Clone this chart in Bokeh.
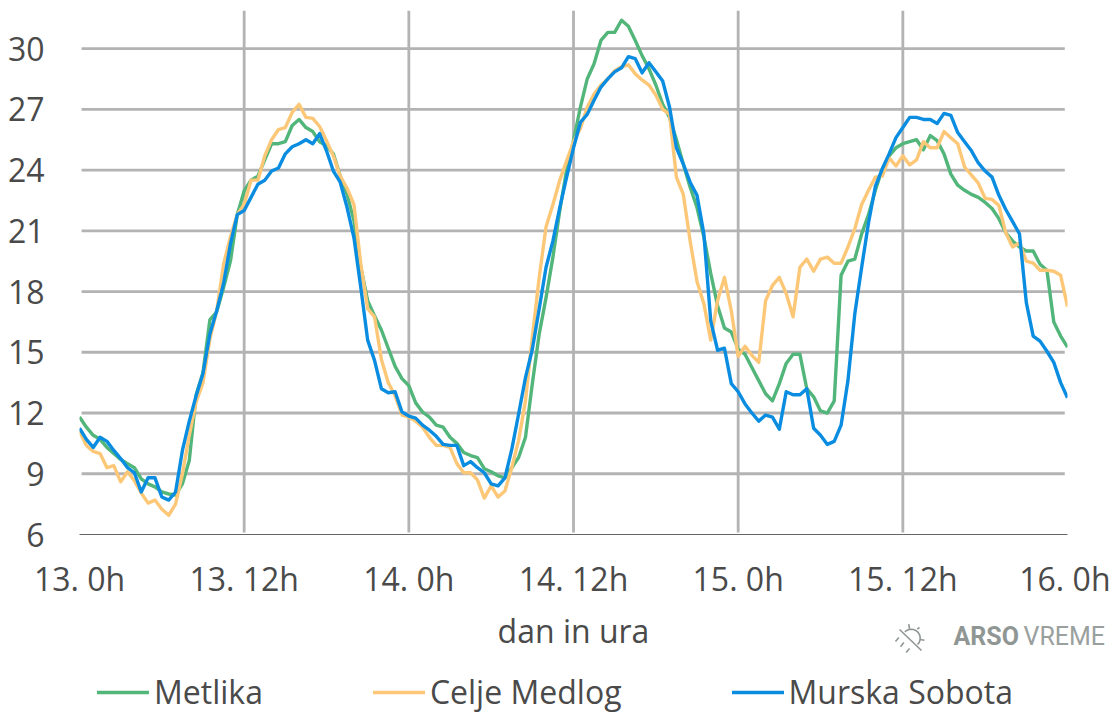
import math
from bokeh.plotting import figure
from bokeh.embed import file_html
from bokeh.layouts import column
from bokeh.resources import INLINE
from bokeh.core.properties import value
from bokeh.models import Range1d, FixedTicker, Legend, LegendItem

metlika = [11.8,11.3,10.9,10.7,10.3,10.0,9.7,9.5,9.3,8.75,8.5,8.35,8.1,8.0,7.95,8.5,9.65,12.9,14.0,16.6,17.0,18.2,19.5,21.8,
 22.97,23.5,23.7,24.5,25.3,25.3,25.4,26.2,26.5,26.1,25.9,25.4,25.2,24.8,23.7,22.8,21.5,19.2,17.55,16.8,16.1,15.2,14.3,13.7,
 13.35,12.5,12.05,11.8,11.4,11.3,10.8,10.5,10.05,9.9,9.8,9.25,9.1,8.9,8.8,9.3,9.8,10.8,13.45,15.9,17.7,19.7,22.0,24.0,
 25.45,27.1,28.5,29.25,30.4,30.8,30.8,31.4,31.1,30.4,29.65,29.0,28.2,27.25,26.6,25.5,24.3,23.15,22.15,20.7,18.9,17.3,16.2,16.0,
 15.15,14.9,14.25,13.6,12.95,12.6,13.45,14.45,14.9,14.9,13.2,12.8,12.1,12.0,12.6,18.8,19.5,19.6,20.85,21.8,23.0,24.05,24.7,25.1,
 25.3,25.4,25.5,25.0,25.7,25.45,24.8,23.8,23.25,23.0,22.8,22.65,22.4,22.1,21.6,20.9,20.5,20.2,20.0,20.0,19.35,19.05,16.5,15.8,15.25]
celje = [11.1,10.4,10.1,10.0,9.3,9.4,8.6,9.1,8.65,8.05,7.55,7.7,7.25,6.95,7.5,9.0,10.9,12.55,13.5,15.65,17.05,19.35,20.7,21.8,
 22.3,23.5,23.5,24.7,25.5,26.0,26.1,26.85,27.25,26.6,26.55,26.15,25.45,24.7,23.7,23.1,22.3,19.35,17.15,16.75,14.65,13.5,12.85,11.9,
 11.8,11.6,11.3,10.8,10.4,10.4,10.3,9.5,9.05,9.05,8.7,7.8,8.4,7.85,8.15,9.3,10.65,12.6,15.75,18.7,21.2,22.3,23.5,24.45,
 25.4,26.05,27.1,27.75,28.2,28.5,28.9,29.1,29.2,28.75,28.45,28.2,27.7,27.0,26.75,23.65,22.8,20.5,18.5,17.4,15.6,17.55,18.7,17.05,
 14.8,15.3,14.85,14.5,17.55,18.3,18.7,17.9,16.75,19.2,19.6,19.0,19.6,19.7,19.4,19.4,20.2,21.1,22.3,23.0,23.65,23.7,24.6,24.2,
 24.7,24.25,24.5,25.4,25.1,25.1,25.9,25.6,25.3,24.15,23.75,23.35,22.6,22.55,22.25,20.9,20.2,20.4,19.5,19.4,19.05,19.05,19.0,18.8,17.25]
murska = [11.25,10.7,10.3,10.8,10.6,10.15,9.75,9.3,9.05,8.1,8.8,8.8,7.85,7.7,8.1,10.15,11.6,12.85,13.95,15.9,17.05,18.4,20.35,21.8,
 22.0,22.65,23.3,23.5,23.95,24.1,24.8,25.15,25.3,25.5,25.3,25.8,24.95,23.95,23.4,22.15,20.65,18.2,15.6,14.6,13.2,13.0,13.05,12.05,
 11.85,11.75,11.4,11.15,10.85,10.45,10.4,10.4,9.4,9.6,9.3,9.05,8.5,8.4,8.8,10.2,11.95,13.75,15.15,17.15,19.2,20.5,22.15,23.65,
 25.1,26.35,26.75,27.45,28.1,28.5,28.85,29.05,29.6,29.5,28.8,29.3,28.85,28.4,27.1,25.1,24.3,23.4,22.75,20.85,16.55,15.1,15.2,13.45,
 13.05,12.45,12.0,11.6,11.9,11.8,11.2,13.05,12.9,12.9,13.2,11.25,10.9,10.45,10.6,11.4,13.6,16.9,19.2,21.4,23.2,24.05,24.8,25.6,
 26.1,26.6,26.6,26.5,26.5,26.3,26.8,26.7,25.85,25.4,24.95,24.35,23.95,23.65,22.75,22.05,21.45,20.85,17.45,15.8,15.55,15.05,14.5,13.5,12.75]

hours = [i * 0.5 for i in range(len(metlika))]
y_ticks = [6, 9, 12, 15, 18, 21, 24, 27, 30]
x_ticks = [0, 12, 24, 36, 48, 60, 72]
x_labels = ["13. 0h", "13. 12h", "14. 0h", "14. 12h", "15. 0h", "15. 12h", "16. 0h"]
x_title = "dan in ura"
names = ["Metlika", "Celje Medlog", "Murska Sobota"]
colors = ["#52b57a", "#fdc778", "#0a8de0"]

GRID = "#b3b3b3"
TXT = "#4a4a4a"
FONT = "Open Sans"
YMAX = 31.88

p = figure(width=1110, height=600, output_backend="svg", toolbar_location=None,
           x_range=Range1d(0, 72), y_range=Range1d(6, YMAX))
p.frame_width = 988
p.frame_height = 524
p.min_border_left = 79
p.min_border_top = 10
p.min_border_right = 43
p.min_border_bottom = 66
p.frame_align = False
p.outline_line_color = None
p.background_fill_color = "white"
p.xgrid.visible = False
p.ygrid.visible = False

hy = y_ticks[1:]
p.segment(x0=[0.15] * len(hy), x1=[71.8] * len(hy), y0=hy, y1=hy, line_color=GRID, line_width=2.8)
vx = x_ticks[1:-1]
p.segment(x0=vx, x1=vx, y0=[6.1] * len(vx), y1=[YMAX] * len(vx), line_color=GRID, line_width=2.8)

for vals, c in zip([metlika, celje, murska], colors):
    p.line(hours, vals, line_color=c, line_width=3.4, line_join="round")

xa = p.xaxis[0]
xa.ticker = FixedTicker(ticks=x_ticks)
xa.major_label_overrides = dict(zip(x_ticks, x_labels))
xa.major_tick_line_color = None
xa.minor_tick_line_color = None
xa.axis_line_color = "#666666"
xa.axis_line_width = 1
xa.major_label_text_font = FONT
xa.major_label_text_font_size = "32px"
xa.major_label_text_color = TXT
xa.major_label_standoff = 16

ya = p.yaxis[0]
ya.ticker = FixedTicker(ticks=y_ticks)
ya.major_tick_line_color = None
ya.minor_tick_line_color = None
ya.axis_line_color = None
ya.major_label_text_font = FONT
ya.major_label_text_font_size = "32px"
ya.major_label_text_color = TXT
ya.major_label_standoff = 29

# lower band: axis title, logo and legend
q = figure(width=1110, height=113, output_backend="svg", toolbar_location=None,
           x_range=Range1d(-3, 1107), y_range=Range1d(113, 0),
           x_axis_type=None, y_axis_type=None, min_border=0)
q.frame_align = False
q.outline_line_color = None
q.xgrid.visible = False
q.ygrid.visible = False

q.text([570], [28], text=[x_title], text_font=value(FONT), text_font_size="32px", text_color=TXT,
       text_align="center", text_baseline="middle")

LOGO = "#8f9694"
q.text([950], [34], text=["ARSO"], text_font=value("Roboto"), text_font_style="bold", text_font_size="25px",
       text_color=LOGO, text_baseline="middle")
q.text([1020], [34], text=["VREME"], text_font=value("Roboto"), text_font_size="25px",
       text_color="#9aa09e", text_baseline="middle")
arc = [(907.7 + 9 * math.cos(math.radians(a)), 35.7 + 9 * math.sin(math.radians(a))) for a in range(-135, 46, 15)]
icon = [[(896, 27), (918, 48)], arc,
        [(905.3, 21.7), (906, 26.3)], [(913.7, 26.7), (916, 25)], [(916.7, 37), (921, 37.7)],
        [(892, 39), (895.3, 35)], [(897, 44.3), (900.3, 40)], [(902.7, 50), (906, 46)]]
q.multi_line([[pt[0] for pt in s] for s in icon], [[pt[1] for pt in s] for s in icon],
             line_color=LOGO, line_width=1.6)

keys = [q.line([-20, -10], [-20, -20], line_color=c, line_width=3.4, line_cap="round") for c in colors]
legend = Legend(items=[LegendItem(label=n, renderers=[r]) for n, r in zip(names, keys)],
                orientation="horizontal", location=(97, 2), border_line_color=None,
                background_fill_alpha=0, glyph_width=52, glyph_height=20, label_standoff=5,
                spacing=110, padding=0, margin=0,
                label_text_font=FONT, label_text_font_size="32px", label_text_color=TXT)
q.add_layout(legend)

page = column(p, q, spacing=0)
open("out.html", "w").write(file_html(page, INLINE))
